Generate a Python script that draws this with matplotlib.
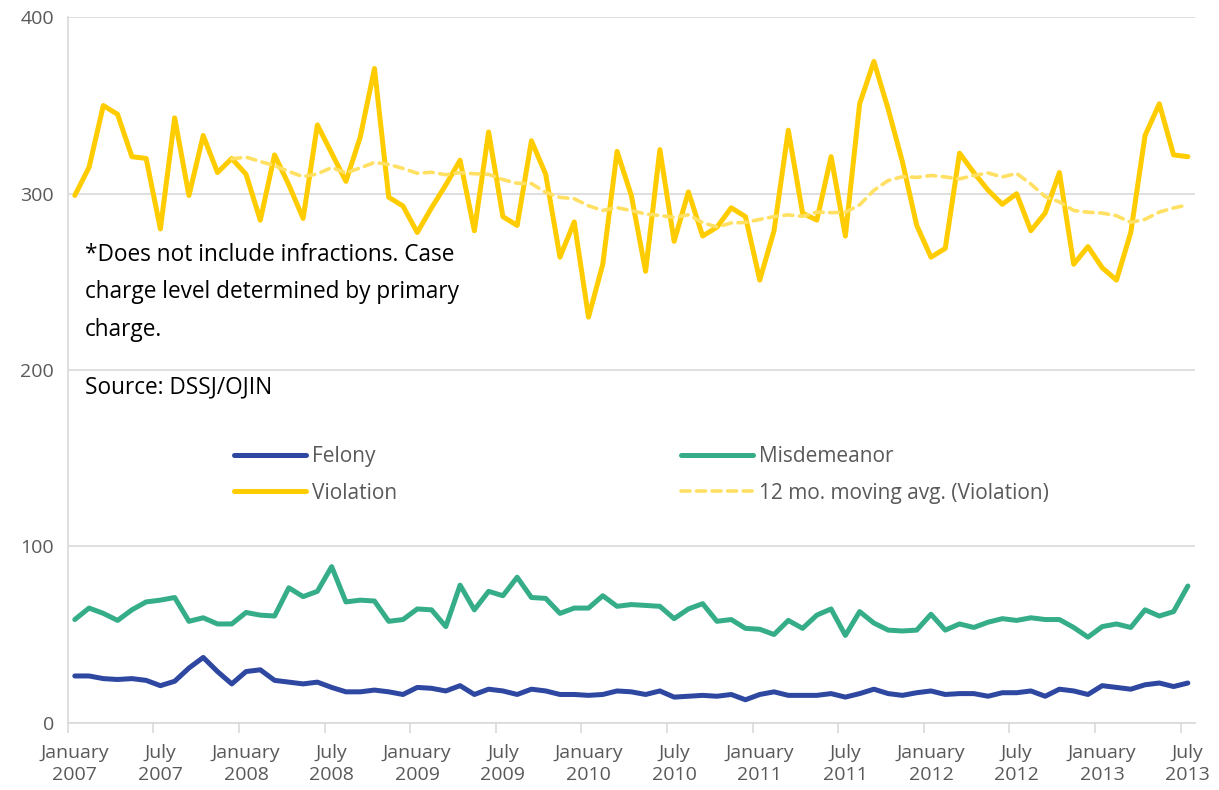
import numpy as np
import pandas as pd
import matplotlib.pyplot as plt
from matplotlib.lines import Line2D

plt.rcParams['font.family'] = ['Open Sans', 'DejaVu Sans']

# Monthly case counts, January 2007 - July 2013
months = pd.date_range("2007-01-01", "2013-07-01", freq="MS")

felony = [26.5, 26.5, 25, 24.5, 25, 24, 21, 23.5, 31, 37, 29, 22,
          29, 30, 24, 23, 22, 23, 20, 17.5, 17.5, 18.5, 17.5, 16,
          20, 19.5, 18, 21, 16, 19, 18, 16, 19, 18, 16, 16,
          15.5, 16, 18, 17.5, 16, 18, 14.5, 15, 15.5, 15, 16, 13,
          16, 17.5, 15.5, 15.5, 15.5, 16.5, 14.5, 16.5, 19, 16.5, 15.5, 17,
          18, 16, 16.5, 16.5, 15, 17, 17, 18, 15, 19, 18, 16,
          21, 20, 19, 21.5, 22.5, 20.5, 22.5]

misdemeanor = [58.5, 65, 62, 58, 64, 68.5, 69.5, 71, 57.5, 59.5, 56, 56,
               62.5, 61, 60.5, 76.5, 71.5, 74.5, 88.5, 68.5, 69.5, 69, 57.5, 58.5,
               64.5, 64, 54.5, 78, 64, 74.5, 72, 82.5, 71, 70.5, 62, 65,
               65, 72, 66, 67, 66.5, 66, 59, 64.5, 67.5, 57.5, 58.5, 53.5,
               53, 50, 58, 53.5, 61, 64.5, 49.5, 63, 56.5, 52.5, 52, 52.5,
               61.5, 52.5, 56, 54, 57, 59, 58, 59.5, 58.5, 58.5, 54, 48.5,
               54.5, 56, 54, 64, 60.5, 63, 77.5]

violation = [299, 315, 350, 345, 321, 320, 280, 343, 299, 333, 312, 320,
             311, 285, 322, 305, 286, 339, 323, 307, 332, 371, 298, 293,
             278, 292, 305, 319, 279, 335, 287, 282, 330, 311, 264, 284,
             230, 260, 324, 299, 256, 325, 273, 301, 276, 281, 292, 287,
             251, 279, 336, 289, 285, 321, 276, 351, 375, 348, 318, 282,
             264, 269, 323, 312, 302, 294, 300, 279, 289, 312, 260, 270,
             258, 251, 278, 333, 351, 322, 321]

tick_labels = []
for m in months[::6]:
    tick_labels.append(m.strftime("%B") + "\n" + m.strftime("%Y"))

x = np.arange(len(months))
moving_avg = pd.Series(violation).rolling(12).mean()

c_fel = '#2E47A0'
c_mis = '#35AD88'
c_vio = '#FFCC00'
c_avg = '#FFE063'
grey = '#595959'

fig = plt.figure(figsize=(12.19, 7.90), dpi=100)
ax = fig.add_axes([0.0555, 0.0852, 0.9248, 0.8928])

ax.plot(x, felony, color=c_fel, lw=3.6, solid_capstyle='round', solid_joinstyle='round', zorder=3)
ax.plot(x, misdemeanor, color=c_mis, lw=3.6, solid_capstyle='round', solid_joinstyle='round', zorder=3)
ax.plot(x, violation, color=c_vio, lw=3.6, solid_capstyle='round', solid_joinstyle='round', zorder=3)
ax.plot(x, moving_avg, color=c_avg, lw=2.6, ls=(0, (2.5, 1.8)), dash_capstyle='round', zorder=4)

ax.set_xlim(-0.5, len(months) - 0.5)
ax.set_ylim(0, 400)
ax.set_yticks([0, 100, 200, 300, 400])
ax.grid(axis='y', color='#d9d9d9', lw=1.2)
ax.set_axisbelow(True)

ax.set_xticks(x[::6])
ax.set_xticklabels(tick_labels, linespacing=1.35)
ax.set_xticks(x[::6] - 0.5, minor=True)
ax.tick_params(axis='x', which='major', length=0, pad=15, labelsize=14, labelcolor=grey)
ax.tick_params(axis='x', which='minor', length=7, width=1.2, color='#d9d9d9')
ax.tick_params(axis='y', length=0, pad=10, labelsize=14, labelcolor=grey)

for s in ['top', 'right']:
    ax.spines[s].set_visible(False)
for s in ['left', 'bottom']:
    ax.spines[s].set_color('#d9d9d9')
    ax.spines[s].set_linewidth(1.2)

ax.text(0.015, 0.6106, "*Does not include infractions. Case\ncharge level determined by primary\ncharge.",
        transform=ax.transAxes, fontsize=16.3, color='black', va='center', linespacing=1.75)
ax.text(0.015, 0.476, "Source: DSSJ/OJIN", transform=ax.transAxes, fontsize=16.3, color='black', va='center')

handles = [
    Line2D([], [], color=c_fel, lw=3.6, solid_capstyle='round'),
    Line2D([], [], color=c_vio, lw=3.6, solid_capstyle='round'),
    Line2D([], [], color=c_mis, lw=3.6, solid_capstyle='round'),
    Line2D([], [], color=c_avg, lw=2.6, ls=(0, (2.5, 1.8)), dash_capstyle='round'),
]
labels = ["Felony", "Violation", "Misdemeanor", "12 mo. moving avg. (Violation)"]
leg = ax.legend(handles, labels, ncol=2, loc='upper left', bbox_to_anchor=(0.1475, 0.392),
                frameon=False, fontsize=15, handlelength=3.46, handletextpad=0.3,
                columnspacing=13.6, labelspacing=0.74, borderpad=0, borderaxespad=0)
for t in leg.get_texts():
    t.set_color(grey)

fig.savefig("out.png", dpi=100)
